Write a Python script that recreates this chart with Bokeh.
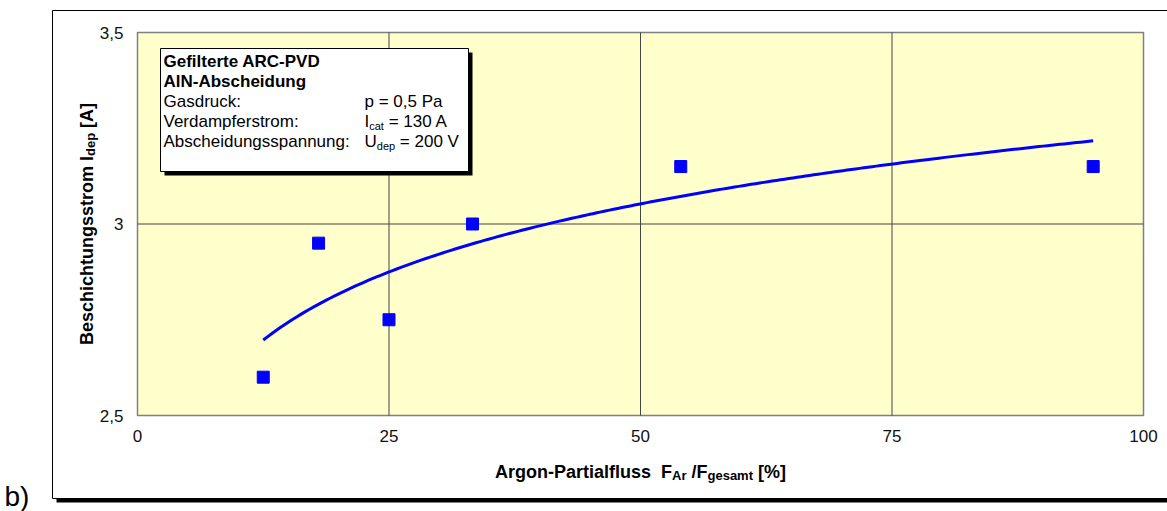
import numpy as np
from bokeh.plotting import figure
from bokeh.models import (Range1d, FixedTicker, Label, BoxAnnotation,
                          LinearAxis)
from bokeh.embed import file_html
from bokeh.resources import INLINE

# Argon partial flow F_Ar/F_gesamt in % and the measured deposition current in A
argon_flow = [12.5, 18.0, 25.0, 33.3, 54.0, 95.0]
dep_current = [2.6, 2.95, 2.75, 3.0, 3.15, 3.15]

x_ticks = [0, 25, 50, 75, 100]
x_tick_labels = ["0", "25", "50", "75", "100"]
y_ticks = [2.5, 3.0, 3.5]
y_tick_labels = ["2,5", "3", "3,5"]

legend_title = ["Gefilterte ARC-PVD", "AlN-Abscheidung"]
legend_names = ["Gasdruck:", "Verdampferstrom:", "Abscheidungsspannung:"]
# (text, is_subscript) pieces for each value
legend_values = [
    [("p = 0,5 Pa", False)],
    [("I", False), ("cat", True), (" = 130 A", False)],
    [("U", False), ("dep", True), (" = 200 V", False)],
]
x_label = [("Argon-Partialfluss", False), ("  F", False), ("Ar", True),
           (" /F", False), ("gesamt", True), (" [%]", False)]
y_label = [("Beschichtungsstrom", False), (" I", False), ("dep", True),
           (" [A]", False)]
panel_tag = "b)"

FONT = "Liberation Sans"
W, H = 1167, 511
FL, FR, FT, FB = 137, 1143, 32, 415  # plot-area edges in canvas pixels

# Arial-compatible advance widths (1/1000 em)
REG = {" ": 278, "=": 584, ",": 278, ":": 278, "A": 667, "I": 278, "U": 722,
       "V": 667, "P": 667, "a": 556, "c": 500, "t": 278, "d": 556, "e": 556,
       "p": 556}
BOLD = {" ": 278, "A": 722, "r": 389, "g": 611, "o": 611, "n": 611, "-": 333,
        "P": 667, "a": 556, "t": 333, "i": 278, "l": 278, "f": 333, "u": 611,
        "s": 556, "F": 611, "/": 278, "e": 556, "m": 889, "[": 333, "%": 889,
        "]": 333, "B": 722, "c": 556, "h": 611, "I": 278, "d": 611, "p": 611}


def text_width(text, size, bold):
    table = BOLD if bold else REG
    return sum(table.get(ch, 556) for ch in text) * size / 1000.0


# The frame spans the whole canvas (chart area); the ranges are widened so
# that the axis limits land on the plot-area edges.
x_min, x_max = x_ticks[0], x_ticks[-1]
y_min, y_max = y_ticks[0], y_ticks[-1]
kx = (FR - FL) / (x_max - x_min)
ky = (FB - FT) / (y_max - y_min)
x_range = Range1d(x_min - FL / kx, x_max + (W - FR) / kx)
y_range = Range1d(y_min - (H - FB) / ky, y_max + FT / ky)


def sx(px):
    return px


def sy(py):
    return H - py


p = figure(width=W, height=H, output_backend="svg", toolbar_location=None,
           x_range=x_range, y_range=y_range,
           x_axis_type=None, y_axis_type=None, min_border=0)
p.background_fill_color = "white"
p.border_fill_color = "white"
p.outline_line_color = None
p.grid.visible = False

# plot area
p.add_layout(BoxAnnotation(left=x_min, right=x_max, bottom=y_min, top=y_max,
                           fill_color="#FFFFCC", fill_alpha=1.0,
                           line_color="#808080", line_alpha=1.0,
                           line_width=1.5, level="underlay"))

# axes pinned to the plot-area edges
xaxis = LinearAxis(fixed_location=y_min, ticker=FixedTicker(ticks=x_ticks),
                   major_label_overrides=dict(zip(x_ticks, x_tick_labels)),
                   major_label_standoff=8)
yaxis = LinearAxis(fixed_location=x_min, ticker=FixedTicker(ticks=y_ticks),
                   major_label_overrides=dict(zip(y_ticks, y_tick_labels)),
                   major_label_standoff=8)
for ax in (xaxis, yaxis):
    ax.axis_line_color = None
    ax.major_tick_line_color = None
    ax.minor_tick_line_color = None
    ax.major_label_text_font = FONT
    ax.major_label_text_font_size = "17px"
    ax.major_label_text_color = "#111111"
p.add_layout(xaxis, "below")
p.add_layout(yaxis, "left")

# inner grid lines at the tick positions
gx = x_ticks[1:-1]
gy = y_ticks[1:-1]
p.segment(x0=gx, y0=[y_min] * len(gx), x1=gx, y1=[y_max] * len(gx),
          line_color="#454545", line_width=1)
p.segment(x0=[x_min] * len(gy), y0=gy, x1=[x_max] * len(gy), y1=gy,
          line_color="#454545", line_width=1)


def box(left, top, right, bottom, fill, line):
    p.add_layout(BoxAnnotation(
        left=sx(left), right=sx(right), top=sy(top), bottom=sy(bottom),
        left_units="screen", right_units="screen",
        top_units="screen", bottom_units="screen",
        fill_color=fill, fill_alpha=1.0, line_color=line, line_alpha=1.0,
        line_width=1))


def rich(pieces, x0, y0, size, sub_size, bold, angle=0.0, drop=4):
    """Lay out text pieces with subscripts; x0/y0 in screen units."""
    pos = 0.0
    for text, sub in pieces:
        fs = sub_size if sub else size
        lead = len(text) - len(text.lstrip(" "))
        pos += text_width(text[:lead], fs, bold)
        body = text.lstrip(" ")
        d = drop if sub else 0
        if angle == 0:
            lx, ly = x0 + pos, y0 - d
        else:
            lx, ly = x0 + d, y0 + pos
        p.add_layout(Label(
            x=lx, y=ly, x_units="screen", y_units="screen", text=body,
            angle=angle, text_font=FONT, text_font_size=f"{fs}px",
            text_font_style="bold" if bold else "normal",
            text_baseline="alphabetic", text_align="left",
            text_color="black"))
        pos += text_width(body, fs, bold)
    return pos


def rich_width(pieces, size, sub_size, bold):
    return sum(text_width(t, sub_size if s else size, bold) for t, s in pieces)


# chart-area border with its bottom shadow
box(52, 10, 1180, 498, None, "black")
box(56, 498, 1180, 502, "black", None)

# logarithmic trend through the measurements
b, a = np.polyfit(np.log(argon_flow), dep_current, 1)
xs = np.linspace(min(argon_flow), max(argon_flow), 200)
p.line(xs, a + b * np.log(xs), line_color="#0000FF", line_width=3)

p.scatter(argon_flow, dep_current, marker="square", size=12,
          fill_color="#0000FF", line_color="#0000FF")

# text box with process parameters
box(164, 52, 472, 175, "black", None)
box(160, 48, 468, 171, "white", "black")
rows = [61, 81, 101, 121, 141]
for i, t in enumerate(legend_title):
    rich([(t, False)], sx(163), sy(rows[i]), 17, 11, True)
for i, t in enumerate(legend_names):
    rich([(t, False)], sx(163), sy(rows[i + 2]), 17, 11, False)
for i, pieces in enumerate(legend_values):
    rich(pieces, sx(364), sy(rows[i + 2]), 17, 11, False)

# axis titles
AX_FS, AX_SUB = 18, 13
xw = rich_width(x_label, AX_FS, AX_SUB, True)
rich(x_label, sx((FL + FR) / 2 - xw / 2), sy(471), AX_FS, AX_SUB, True,
     drop=4)
yw = rich_width(y_label, AX_FS, AX_SUB, True)
rich(y_label, sx(86), sy((FT + FB) / 2 + yw / 2), AX_FS, AX_SUB, True,
     angle=np.pi / 2, drop=4)

p.add_layout(Label(x=sx(4), y=sy(496), x_units="screen", y_units="screen",
                   text=panel_tag, text_font=FONT, text_font_size="28px",
                   text_baseline="alphabetic", text_color="black"))

open("out.html", "w").write(file_html(p, INLINE))
